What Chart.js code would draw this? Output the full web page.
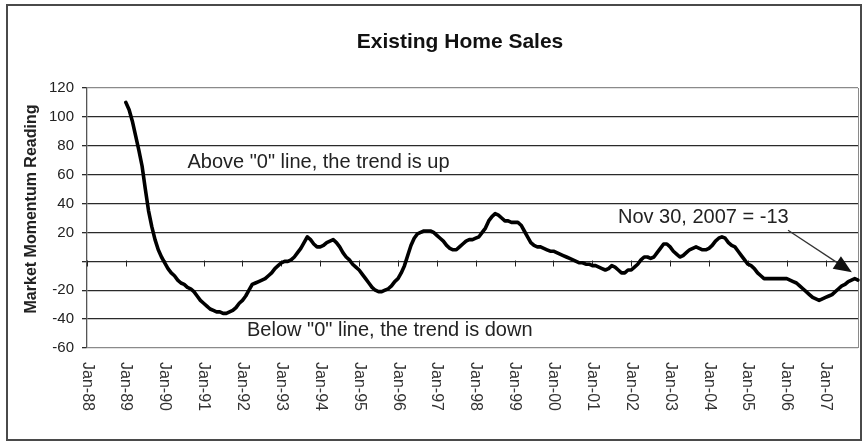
<!DOCTYPE html>
<html>
<head>
<meta charset="utf-8">
<script src="https://cdn.jsdelivr.net/npm/chart.js@4/dist/chart.umd.min.js"></script>
<style>
  html, body { margin: 0; padding: 0; background: #fff; }
  #c { display: block; }
</style>
</head>
<body>
<canvas id="c" width="867" height="445"></canvas>
<script>
// Monthly categories, Jan-88 .. Nov-07
const monthNames = ['Jan','Feb','Mar','Apr','May','Jun','Jul','Aug','Sep','Oct','Nov','Dec'];
const years = ['88','89','90','91','92','93','94','95','96','97','98','99','00','01','02','03','04','05','06','07'];
const categories = [];
years.forEach(y => monthNames.forEach(m => categories.push(m + '-' + y)));
categories.length = 239; // series ends in Nov-07

// Year tick labels on the horizontal axis
const yearTicks = years.map(y => 'Jan-' + y);

// Vertical axis ticks
const yTicks = [120, 100, 80, 60, 40, 20, 0, -20, -40, -60];

// Market momentum reading, monthly from Jan-89 to Nov-07
const momentum1989_1993 = [
  110, 105, 97, 87, 77, 66, 50, 35, 24, 15, 8, 3,
  -1, -5, -8, -10, -13, -15, -16, -18, -19, -21, -24, -27,
  -29, -31, -33, -34, -35, -35, -36, -36, -35, -34, -32, -29,
  -27, -24, -20, -16, -15, -14, -13, -12, -10, -8, -5, -3,
  -1, 0, 0, 1, 3, 6, 9, 13, 17, 15, 12, 10
];
const momentum1994_1998 = [
  10, 11, 13, 14, 15, 13, 10, 6, 3, 1, -2, -4,
  -6, -9, -12, -15, -18, -20, -21, -21, -20, -19, -17, -14,
  -12, -8, -3, 4, 11, 16, 19, 20, 21, 21, 21, 20,
  18, 16, 14, 11, 9, 8, 8, 10, 12, 14, 15, 15,
  16, 17, 20, 23, 28, 31, 33, 32, 30, 28, 28, 27
];
const momentum1999_2003 = [
  27, 27, 25, 21, 17, 13, 11, 10, 10, 9, 8, 7,
  7, 6, 5, 4, 3, 2, 1, 0, -1, -1, -2, -2,
  -3, -3, -4, -5, -6, -5, -3, -4, -6, -8, -8, -6,
  -6, -4, -2, 1, 3, 3, 2, 3, 6, 9, 12, 12,
  10, 7, 5, 3, 4, 6, 8, 9, 10, 9, 8, 8
];
const momentum2004_2007 = [
  9, 11, 14, 16, 17, 16, 13, 11, 10, 7, 4, 1,
  -2, -3, -5, -8, -10, -12, -12, -12, -12, -12, -12, -12,
  -12, -13, -14, -15, -17, -19, -21, -23, -25, -26, -27, -26,
  -25, -24, -23, -21, -19, -17, -16, -14, -13, -12, -13
];
const firstIndex = 12; // Jan-89
const series = new Array(firstIndex).fill(null).concat(
  momentum1989_1993, momentum1994_1998, momentum1999_2003, momentum2004_2007
);

const FONT = '"Liberation Sans", Arial, sans-serif';

// Text notes placed in data coordinates (left edge / baseline)
const notes = [
  { text: 'Above "0" line, the trend is up', idx: 31, value: 64.5 },
  { text: 'Below "0" line, the trend is down', idx: 49.4, value: -51.4 },
  { text: 'Nov 30, 2007 = -13', idx: 163.9, value: 26.4 }
];
const arrow = { from: [216.4, 21.5], to: [236.1, -7.6] };

const decorations = {
  id: 'decorations',
  beforeDatasetsDraw(chart) {
    const { ctx, chartArea: a, scales: { x, y } } = chart;
    ctx.save();
    // plot area border (right side)
    ctx.strokeStyle = '#8a8a8a';
    ctx.lineWidth = 1;
    ctx.beginPath();
    ctx.moveTo(Math.round(a.right) + 0.5, a.top);
    ctx.lineTo(Math.round(a.right) + 0.5, a.bottom);
    ctx.stroke();
    // tick marks on the zero line at each January
    const y0 = Math.round(y.getPixelForValue(0)) + 0.5;
    ctx.strokeStyle = '#222';
    ctx.beginPath();
    yearTicks.forEach((t, i) => {
      const px = Math.round(x.getPixelForValue(i * 12)) + 0.5;
      ctx.moveTo(px, y0 - 1);
      ctx.lineTo(px, y0 + 5);
    });
    ctx.stroke();
    ctx.restore();
  },
  afterDraw(chart) {
    const { ctx, chartArea: a, scales: { x, y } } = chart;
    ctx.save();
    // outer frame
    ctx.strokeStyle = '#4a4a4a';
    ctx.lineWidth = 2;
    ctx.strokeRect(7, 5, 854, 435);

    // title
    ctx.fillStyle = '#111';
    ctx.font = 'bold 21px ' + FONT;
    ctx.textAlign = 'center';
    ctx.textBaseline = 'alphabetic';
    ctx.fillText('Existing Home Sales', 460, 48);

    // vertical axis title
    ctx.save();
    ctx.translate(32, 209);
    ctx.rotate(-Math.PI / 2);
    ctx.font = 'bold 16px ' + FONT;
    ctx.textAlign = 'center';
    ctx.textBaseline = 'middle';
    ctx.fillStyle = '#222';
    ctx.fillText('Market Momentum Reading', 0, 0);
    ctx.restore();

    // year labels, rotated to read top to bottom
    ctx.font = '16px ' + FONT;
    ctx.fillStyle = '#333';
    ctx.textAlign = 'left';
    ctx.textBaseline = 'middle';
    yearTicks.forEach((t, i) => {
      const px = x.getPixelForValue(i * 12);
      ctx.save();
      ctx.translate(px, a.bottom + 14);
      ctx.rotate(Math.PI / 2);
      ctx.fillText(t, 0, 0);
      ctx.restore();
    });

    // notes
    ctx.font = '20px ' + FONT;
    ctx.fillStyle = '#222';
    ctx.textAlign = 'left';
    ctx.textBaseline = 'alphabetic';
    notes.forEach(n => {
      ctx.fillText(n.text, x.getPixelForValue(n.idx), y.getPixelForValue(n.value));
    });

    // arrow to the latest reading
    const x1 = x.getPixelForValue(arrow.from[0]), y1 = y.getPixelForValue(arrow.from[1]);
    const x2 = x.getPixelForValue(arrow.to[0]), y2 = y.getPixelForValue(arrow.to[1]);
    const ang = Math.atan2(y2 - y1, x2 - x1);
    const headLen = 18, headW = 7.5;
    ctx.strokeStyle = '#333';
    ctx.lineWidth = 1.3;
    ctx.beginPath();
    ctx.moveTo(x1, y1);
    ctx.lineTo(x2 - Math.cos(ang) * headLen * 0.8, y2 - Math.sin(ang) * headLen * 0.8);
    ctx.stroke();
    ctx.fillStyle = '#111';
    ctx.beginPath();
    ctx.moveTo(x2, y2);
    ctx.lineTo(x2 - Math.cos(ang) * headLen - Math.sin(ang) * headW,
               y2 - Math.sin(ang) * headLen + Math.cos(ang) * headW);
    ctx.lineTo(x2 - Math.cos(ang) * headLen + Math.sin(ang) * headW,
               y2 - Math.sin(ang) * headLen - Math.cos(ang) * headW);
    ctx.closePath();
    ctx.fill();
    ctx.restore();
  }
};

new Chart(document.getElementById('c'), {
  type: 'line',
  data: {
    labels: categories,
    datasets: [{
      data: series,
      borderColor: '#000',
      borderWidth: 3.6,
      pointRadius: 0,
      tension: 0,
      borderJoinStyle: 'round',
      borderCapStyle: 'round',
      fill: false
    }]
  },
  options: {
    responsive: false,
    animation: false,
    layout: { padding: { left: 0, top: 88, right: 9, bottom: 97 } },
    plugins: {
      legend: { display: false },
      tooltip: { enabled: false },
      title: { display: false }
    },
    scales: {
      x: { display: false, offset: false },
      y: {
        min: -60,
        max: 120,
        afterBuildTicks: s => { s.ticks = yTicks.map(v => ({ value: v })); },
        afterFit: s => { s.width = 87; },
        ticks: {
          callback: v => (v === 0 ? '' : String(v)),
          color: '#222',
          font: { family: FONT, size: 15 },
          padding: 8
        },
        grid: {
          color: c => (c.tick && (c.tick.value === 120 || c.tick.value === -60)) ? '#8a8a8a' : '#2a2a2a',
          lineWidth: 1.3,
          tickLength: 5,
          tickColor: '#2a2a2a'
        },
        border: { display: true, color: '#555', width: 1.3 }
      }
    }
  },
  plugins: [decorations]
});
</script>
</body>
</html>
